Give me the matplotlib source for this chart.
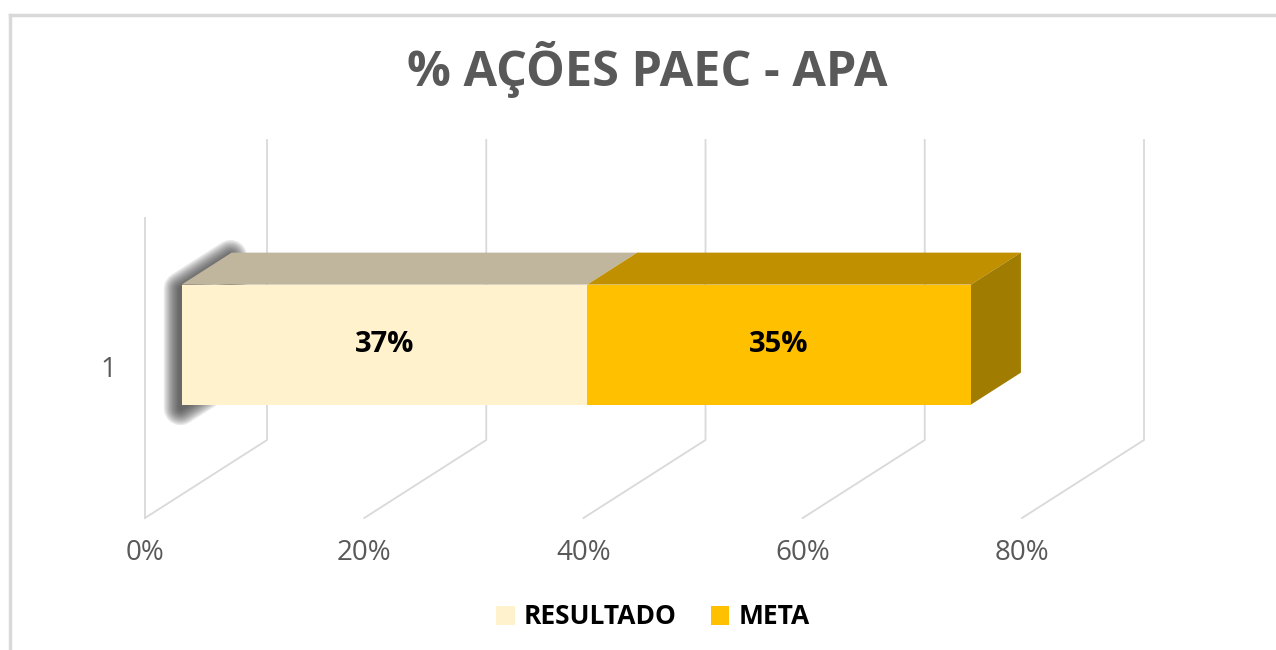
import numpy as np
import matplotlib.pyplot as plt
from matplotlib.patches import Polygon, Patch

plt.rcParams['font.family'] = ['Open Sans', 'DejaVu Sans']

title = '% AÇÕES PAEC - APA'
category = '1'
series = ['RESULTADO', 'META']
values = [37, 35]
front_colors = ['#FFF2CC', '#FFC000']
top_colors = ['#C0B69E', '#C09000']
side_color = '#A07C00'
xticks = [0, 20, 40, 60, 80]

# oblique projection: x in percent, y in pixel-like units
DX = 11.13   # depth shift in percent units (full depth)
DY = 78.0    # depth shift upward
WALL_H = 300.0


def proj(v, d, z):
    return (v + d * DX, z + d * DY)


fig = plt.figure(figsize=(12.76, 6.5), dpi=100)
ax = fig.add_axes([0, 0, 1, 1])
ax.set_xlim(-145 / 10.9625, (1276 - 145) / 10.9625)
ax.set_ylim(518 - 650, 518)
ax.axis('off')

grid_c = '#D9D9D9'
# side wall front edge
ax.plot([0, 0], [0, WALL_H], color=grid_c, lw=1.3, zorder=1)
for t in xticks:
    x0, y0 = proj(t, 0, 0)
    x1, y1 = proj(t, 1, 0)
    x2, y2 = proj(t, 1, WALL_H)
    ax.plot([x0, x1, x2], [y0, y1, y2], color=grid_c, lw=1.3, zorder=1)
    ax.text(t, -35, f'{t}%', ha='center', va='center', fontsize=20, color='#595959')

ax.text(-2.6, 148, category, ha='right', va='center', fontsize=20, color='#595959')

# bar geometry
d0, d1 = 0.30, 0.71
z0, z1 = 90, 210

# soft shadow at left end (layered strokes to fake a blur)
end_face = [proj(0, d0, z0), proj(0, d0, z1), proj(0, d1, z1), proj(0, d1, z0)]
end_face = [(x - 0.1, y - 4) for x, y in end_face]
for lw in np.linspace(24, 3, 12):
    ax.add_patch(Polygon(end_face, closed=True, facecolor='none',
                         edgecolor=(0.2, 0.2, 0.2, 0.1), lw=lw, joinstyle='round', zorder=2))

starts = np.concatenate([[0], np.cumsum(values)[:-1]])
for i, (s, v) in enumerate(zip(starts, values)):
    e = s + v
    front = [proj(s, d0, z0), proj(e, d0, z0), proj(e, d0, z1), proj(s, d0, z1)]
    top = [proj(s, d0, z1), proj(e, d0, z1), proj(e, d1, z1), proj(s, d1, z1)]
    ax.add_patch(Polygon(top, closed=True, facecolor=top_colors[i], edgecolor='none', zorder=3))
    ax.add_patch(Polygon(front, closed=True, facecolor=front_colors[i], edgecolor='none', zorder=4))
    cx, cy = proj(s + v / 2, d0, (z0 + z1) / 2)
    ax.text(cx, cy, f'{v}%', ha='center', va='center', fontsize=21,
            fontweight='bold', color='black', zorder=5)

e = sum(values)
side = [proj(e, d0, z0), proj(e, d0, z1), proj(e, d1, z1), proj(e, d1, z0)]
ax.add_patch(Polygon(side, closed=True, facecolor=side_color, edgecolor='none', zorder=3))

fig.text(647 / 1276, 1 - 70 / 650, title, ha='center', va='center', fontsize=35,
         fontweight='bold', color='#595959')

handles = [Patch(facecolor=c, edgecolor='none') for c in front_colors]
fig.legend(handles, series, loc='center', bbox_to_anchor=(653 / 1276, 1 - 617 / 650),
           ncol=2, frameon=False, prop={'weight': 'bold', 'size': 19},
           handlelength=0.7, handleheight=0.7, handletextpad=0.35, columnspacing=1.3)

# chart border
fig.add_artist(plt.Line2D([9.5 / 1276, 9.5 / 1276], [0, 1 - 15 / 650], color='#D9D9D9', lw=2.5))
fig.add_artist(plt.Line2D([9.5 / 1276, 1], [1 - 15 / 650, 1 - 15 / 650], color='#D9D9D9', lw=2.5))

fig.savefig('out.png', dpi=100)
